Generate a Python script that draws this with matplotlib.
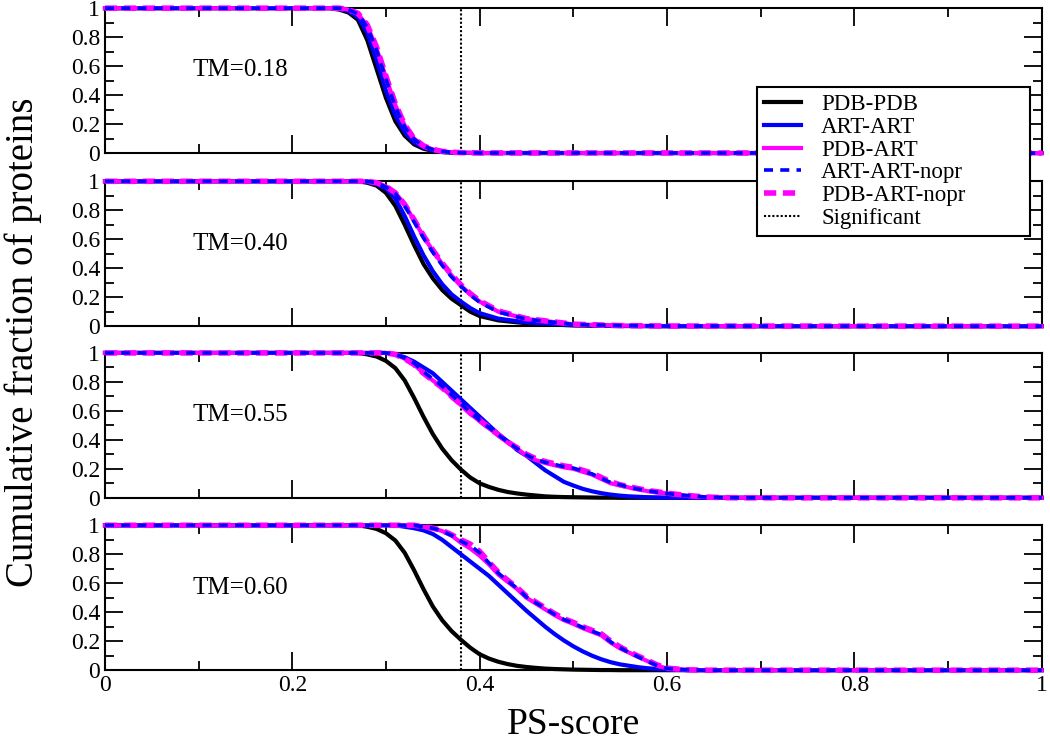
import matplotlib
matplotlib.use('Agg')
import matplotlib.pyplot as plt
from matplotlib.ticker import MultipleLocator, FuncFormatter

plt.rcParams['font.family'] = ['Liberation Serif', 'DejaVu Serif']

labels = ['PDB-PDB', 'ART-ART', 'PDB-ART', 'ART-ART-nopr', 'PDB-ART-nopr']
tm_labels = ['TM=0.18', 'TM=0.40', 'TM=0.55', 'TM=0.60']
significant = 0.38

# panel 1, TM=0.18
x1 = [0, .24, .25, .26, .27, .28, .29, .30, .31, .32, .33, .34, .35, .36, .37, .38, .40, 1.0]
p1_pdb = [1, 1, .99, .97, .92, .78, .58, .38, .22, .12, .06, .03, .015, .007, .003, .001, 0, 0]
p1_art = [1, 1, .995, .98, .94, .83, .64, .43, .26, .145, .075, .038, .018, .009, .004, .002, 0, 0]
p1_pdbart = [1, 1, 1, .99, .96, .88, .72, .52, .33, .19, .10, .05, .025, .012, .006, .003, .001, 0]
p1_art_nopr = [1, 1, 1, .99, .96, .87, .71, .51, .32, .18, .095, .048, .024, .011, .005, .002, .001, 0]
p1_pdbart_nopr = [1, 1, 1, .99, .965, .885, .73, .53, .34, .195, .10, .05, .025, .012, .006, .003, .001, 0]

# panel 2, TM=0.40
x2 = [0, .26, .27, .28, .29, .30, .31, .32, .33, .34, .35, .36, .37, .38, .39, .40, .42, .45, .50, .55, .60, 1.0]
p2_pdb = [1, 1, 1, .99, .97, .92, .83, .70, .56, .43, .33, .25, .19, .145, .10, .07, .04, .02, .005, .001, 0, 0]
p2_art = [1, 1, 1, .995, .98, .95, .88, .76, .62, .49, .38, .29, .22, .17, .125, .09, .052, .026, .008, .002, 0, 0]
p2_pdbart = [1, 1, 1, 1, .99, .965, .92, .84, .73, .62, .52, .43, .35, .28, .22, .17, .10, .05, .013, .004, .001, 0]
p2_art_nopr = [1, 1, 1, 1, .99, .96, .915, .83, .72, .61, .51, .42, .34, .275, .215, .165, .098, .048, .012, .004, .001, 0]
p2_pdbart_nopr = [1, 1, 1, 1, .99, .965, .92, .84, .735, .625, .525, .435, .355, .285, .225, .175, .105, .052, .014, .004, .001, 0]

# panel 3, TM=0.55
x3 = [0, .27, .28, .29, .30, .31, .32, .33, .34, .35, .36, .37, .38, .39, .40, .41, .42, .43, .44, .45,
      .46, .47, .48, .49, .50, .51, .52, .53, .54, .55, .56, .58, .60, .62, .64, .66, .68, 1.0]
p3_pdb = [1, 1, .99, .975, .945, .895, .81, .69, .56, .44, .34, .26, .195, .14, .10, .075, .055, .04, .03, .022,
          .016, .01, .007, .005, .004, .003, .002, .001, .001, 0, 0, 0, 0, 0, 0, 0, 0, 0]
p3_art = [1, 1, 1, 1, 1, .99, .97, .94, .90, .86, .80, .74, .68, .62, .56, .50, .44, .39, .33, .29,
          .24, .19, .15, .11, .085, .062, .045, .032, .022, .015, .01, .004, .001, 0, 0, 0, 0, 0]
p3_pdbart = [1, 1, 1, 1, 1, .99, .96, .92, .86, .81, .76, .70, .64, .58, .53, .48, .43, .38, .34, .29,
             .26, .24, .225, .21, .20, .18, .16, .13, .10, .085, .07, .045, .03, .015, .005, .001, 0, 0]
p3_art_nopr = [1, 1, 1, 1, 1, .99, .965, .93, .87, .82, .77, .71, .65, .59, .535, .485, .435, .385, .34, .295,
               .265, .245, .23, .215, .205, .185, .165, .135, .105, .09, .072, .047, .03, .016, .006, .001, 0, 0]
p3_pdbart_nopr = [1, 1, 1, 1, 1, .99, .96, .92, .86, .81, .76, .70, .645, .585, .535, .485, .435, .385, .345, .30,
                  .27, .25, .235, .22, .21, .19, .17, .14, .11, .09, .075, .05, .032, .017, .006, .001, 0, 0]

# panel 4, TM=0.60
x4 = [0, .27, .28, .29, .30, .31, .32, .33, .34, .35, .36, .37, .38, .39, .40, .41, .42, .43, .44, .45,
      .46, .47, .48, .49, .50, .51, .52, .53, .54, .55, .56, .57, .58, .59, .60, .62, .64, 1.0]
p4_pdb = [1, 1, .99, .975, .945, .895, .81, .69, .56, .44, .345, .27, .21, .155, .11, .08, .058, .042, .03, .022,
          .016, .011, .008, .006, .004, .003, .002, .001, .001, 0, 0, 0, 0, 0, 0, 0, 0, 0]
p4_art = [1, 1, 1, 1, 1, 1, .99, .98, .965, .94, .90, .85, .80, .75, .70, .65, .59, .53, .47, .41,
          .355, .30, .25, .205, .165, .13, .10, .075, .055, .04, .03, .02, .013, .008, .005, .001, 0, 0]
p4_pdbart = [1, 1, 1, 1, 1, 1, 1, 1, .99, .98, .96, .93, .88, .84, .79, .73, .66, .61, .56, .50,
             .46, .42, .38, .345, .32, .29, .265, .24, .19, .15, .12, .09, .06, .03, .012, .003, 0, 0]
p4_art_nopr = [1, 1, 1, 1, 1, 1, 1, 1, .99, .98, .96, .93, .89, .86, .81, .74, .67, .615, .565, .505,
               .465, .425, .385, .35, .325, .295, .27, .245, .195, .155, .12, .09, .06, .03, .012, .003, 0, 0]
p4_pdbart_nopr = [1, 1, 1, 1, 1, 1, 1, 1, .99, .98, .965, .935, .90, .87, .82, .745, .675, .62, .57, .51,
                  .47, .43, .39, .355, .33, .30, .275, .25, .20, .16, .125, .095, .065, .035, .014, .003, 0, 0]

panels = [
    (x1, [p1_pdb, p1_art, p1_pdbart, p1_art_nopr, p1_pdbart_nopr]),
    (x2, [p2_pdb, p2_art, p2_pdbart, p2_art_nopr, p2_pdbart_nopr]),
    (x3, [p3_pdb, p3_art, p3_pdbart, p3_art_nopr, p3_pdbart_nopr]),
    (x4, [p4_pdb, p4_art, p4_pdbart, p4_art_nopr, p4_pdbart_nopr]),
]

colors = ['black', '#0000ff', '#ff00ff', '#0000ff', '#ff00ff']
widths = [3.0, 3.0, 3.0, 2.6, 4.0]
styles = ['-', '-', '-', (0, (2.5, 2.0)), (0, (2.2, 1.2))]
zorders = [3, 3, 3, 5, 4]

fig = plt.figure(figsize=(10.5, 7.43), dpi=100)
bottoms = [0.794, 0.561, 0.330, 0.098]
height = 0.195

def fmt(v, pos):
    if abs(v - round(v)) < 1e-9:
        return '%d' % round(v)
    return '%g' % v

handles = []
for k, (xs, series) in enumerate(panels):
    ax = fig.add_axes([0.1, bottoms[k], 0.892, height])
    for j, ys in enumerate(series):
        ln, = ax.plot(xs, ys, color=colors[j], lw=widths[j], linestyle=styles[j],
                      zorder=zorders[j], clip_on=False, label=labels[j])
        if k == 0:
            handles.append(ln)
    sig = ax.axvline(significant, color='black', lw=1.5, linestyle=(0, (1, 1)),
                     zorder=2, label='Significant')
    if k == 0:
        handles.append(sig)
    ax.set_xlim(0, 1)
    ax.set_ylim(0, 1)
    ax.xaxis.set_major_locator(MultipleLocator(0.2))
    ax.xaxis.set_minor_locator(MultipleLocator(0.1))
    ax.yaxis.set_major_locator(MultipleLocator(0.2))
    ax.yaxis.set_minor_locator(MultipleLocator(0.1))
    ax.tick_params(which='both', direction='in', top=True, right=True, width=1.3, labelsize=17)
    ax.tick_params(which='major', length=13)
    ax.tick_params(which='minor', length=6.5)
    ax.yaxis.set_major_formatter(FuncFormatter(fmt))
    ax.xaxis.set_major_formatter(FuncFormatter(fmt))
    for s in ax.spines.values():
        s.set_linewidth(1.5)
    if k < 3:
        ax.tick_params(labelbottom=False)
    ax.text(0.145, 0.57, tm_labels[k], fontsize=18, ha='center', va='center')
    if k == 3:
        ax.set_xlabel('PS-score', fontsize=27, labelpad=8)

fig.text(0.022, 0.54, 'Cumulative fraction of proteins', fontsize=28,
         rotation=90, ha='center', va='center')

leg = fig.legend(handles=handles, loc='upper left', bbox_to_anchor=(0.721, 0.883, 0.26, 0),
                 mode='expand', fontsize=16.5, frameon=True, fancybox=False, edgecolor='black',
                 framealpha=1, handlelength=1.6, handletextpad=0.9, labelspacing=0.08,
                 borderpad=0.3, borderaxespad=0)
leg.get_frame().set_linewidth(1.5)
leg.set_zorder(10)

fig.savefig('out.png', dpi=100)
